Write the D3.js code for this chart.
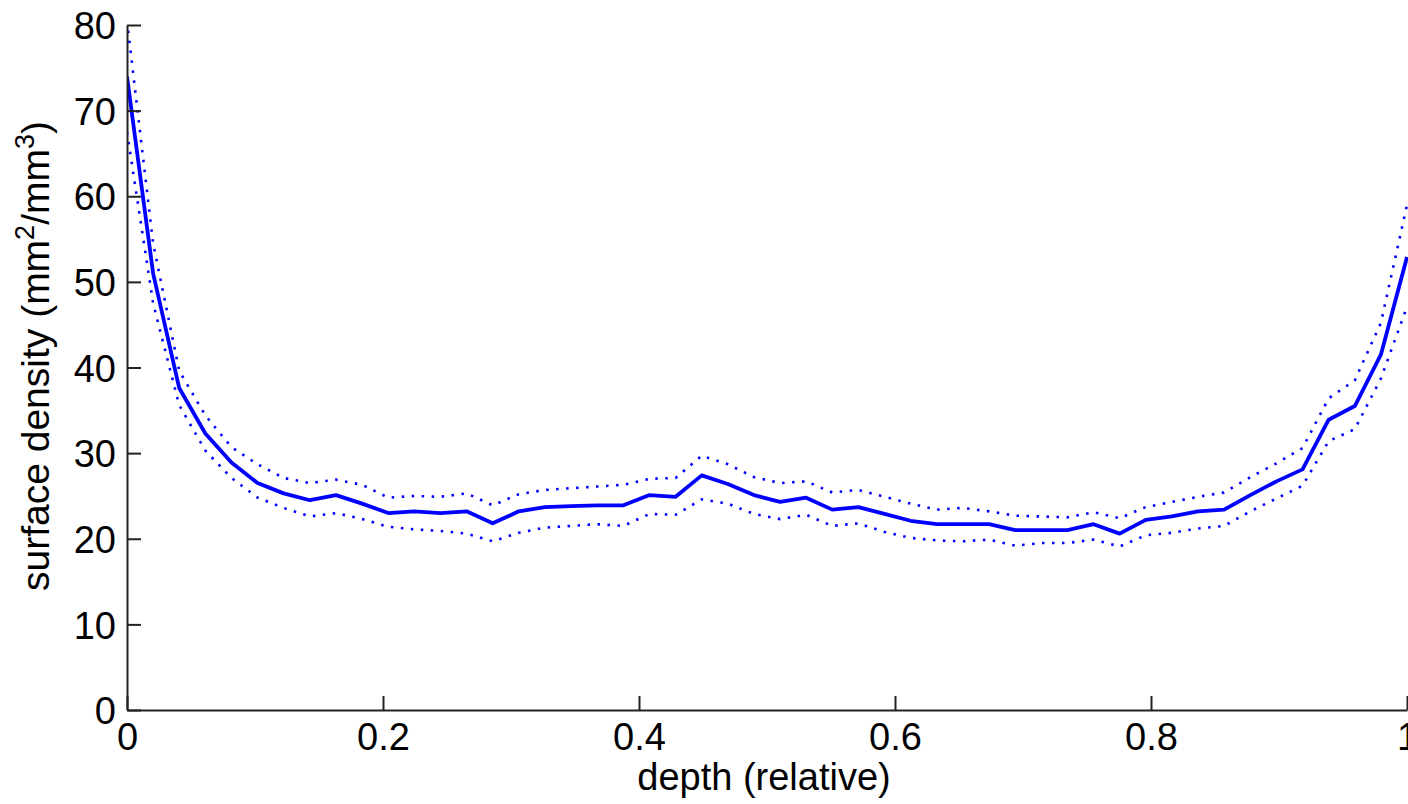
<!DOCTYPE html>
<html>
<head>
<meta charset="utf-8">
<script src="https://cdn.jsdelivr.net/npm/d3@7"></script>
<style>
  html, body { margin: 0; padding: 0; background: #fff; }
  svg { display: block; }
  text { font-family: "Liberation Sans", Arial, Helvetica, sans-serif; fill: #000; }
</style>
</head>
<body>
<svg id="chart" width="1408" height="804"></svg>
<script>
// Relative depth of each sample (50 evenly spaced bins from 0 to 1)
const depth = [
  0, 0.0204, 0.0408, 0.0612, 0.0816, 0.1020, 0.1224, 0.1429, 0.1633, 0.1837,
  0.2041, 0.2245, 0.2449, 0.2653, 0.2857, 0.3061, 0.3265, 0.3469, 0.3673, 0.3878,
  0.4082, 0.4286, 0.4490, 0.4694, 0.4898, 0.5102, 0.5306, 0.5510, 0.5714, 0.5918,
  0.6122, 0.6327, 0.6531, 0.6735, 0.6939, 0.7143, 0.7347, 0.7551, 0.7755, 0.7959,
  0.8163, 0.8367, 0.8571, 0.8776, 0.8980, 0.9184, 0.9388, 0.9592, 0.9796, 1
];

// Mean surface density (mm^2/mm^3)
const meanDensity = [
  74.0, 51.0, 37.6, 32.3, 28.9, 26.5, 25.3, 24.5, 25.1, 24.1,
  23.0, 23.2, 23.0, 23.2, 21.8, 23.2, 23.7, 23.8, 23.9, 23.9,
  25.1, 24.9, 27.4, 26.4, 25.1, 24.3, 24.8, 23.4, 23.7, 22.9,
  22.1, 21.7, 21.7, 21.7, 21.0, 21.0, 21.0, 21.7, 20.6, 22.2,
  22.6, 23.2, 23.4, 25.1, 26.7, 28.1, 33.9, 35.5, 41.5, 52.9
];

// Upper confidence bound
const upperDensity = [
  80.5, 54.5, 39.6, 34.4, 30.7, 28.7, 27.1, 26.5, 26.9, 26.3,
  24.8, 25.0, 24.9, 25.3, 23.9, 25.2, 25.7, 25.9, 26.1, 26.3,
  27.0, 27.1, 29.7, 28.7, 27.2, 26.5, 26.7, 25.4, 25.7, 24.9,
  24.1, 23.4, 23.6, 23.2, 22.7, 22.6, 22.5, 23.1, 22.4, 23.7,
  24.3, 24.9, 25.4, 27.2, 28.8, 30.6, 36.4, 38.5, 45.2, 59.0
];

// Lower confidence bound
const lowerDensity = [
  67.5, 47.5, 35.6, 30.3, 27.1, 24.8, 23.6, 22.6, 23.0, 22.3,
  21.4, 21.1, 20.9, 20.6, 19.7, 20.7, 21.3, 21.5, 21.7, 21.5,
  22.9, 22.8, 24.6, 24.1, 22.9, 22.3, 22.8, 21.5, 21.8, 20.8,
  20.1, 19.8, 19.7, 19.9, 19.2, 19.5, 19.5, 19.9, 19.1, 20.4,
  20.7, 21.2, 21.5, 23.2, 24.7, 26.2, 31.4, 32.8, 38.7, 47.1
];

const xTicks = [0, 0.2, 0.4, 0.6, 0.8, 1];
const xTickLabels = ["0", "0.2", "0.4", "0.6", "0.8", "1"];
const yTicks = [0, 10, 20, 30, 40, 50, 60, 70, 80];

const svg = d3.select("#chart");
const margin = { left: 127, right: 1, top: 25, bottom: 94 };
const W = 1408, H = 804;
const innerW = W - margin.left - margin.right;
const innerH = H - margin.top - margin.bottom;

const x = d3.scaleLinear().domain([0, 1]).range([0, innerW]);
const y = d3.scaleLinear().domain([0, 80]).range([innerH, 0]);

const g = svg.append("g").attr("transform", `translate(${margin.left},${margin.top})`);

svg.append("defs").append("clipPath").attr("id", "plotClip")
  .append("rect").attr("x", 0).attr("y", 0).attr("width", innerW + 1).attr("height", innerH);

const rows = depth.map((d, i) => ({ d, m: meanDensity[i], u: upperDensity[i], l: lowerDensity[i] }));

const lines = g.append("g").attr("clip-path", "url(#plotClip)");
const mk = key => d3.line().x(r => x(r.d)).y(r => y(r[key]));

// confidence bounds (dotted) and mean (solid)
["u", "l"].forEach(k => {
  lines.append("path").datum(rows).attr("d", mk(k))
    .attr("fill", "none").attr("stroke", "#0000ff").attr("stroke-width", 2.6)
    .attr("stroke-dasharray", "2.5,7.5");
});
lines.append("path").datum(rows).attr("d", mk("m"))
  .attr("fill", "none").attr("stroke", "#0000ff").attr("stroke-width", 3.8)
  .attr("stroke-linejoin", "round");

// Axes with inward ticks
const xAxis = d3.axisBottom(x).tickValues(xTicks).tickSizeInner(-14).tickSizeOuter(0)
  .tickFormat((d, i) => xTickLabels[i]).tickPadding(13);
const yAxis = d3.axisLeft(y).tickValues(yTicks).tickSizeInner(-14).tickSizeOuter(0)
  .tickPadding(26);

const gx = g.append("g").attr("transform", `translate(0,${innerH})`).call(xAxis);
const gy = g.append("g").call(yAxis);

[gx, gy].forEach(a => {
  a.select(".domain").attr("stroke", "#222").attr("stroke-width", 2);
  a.selectAll(".tick line").attr("stroke", "#222").attr("stroke-width", 2);
  a.selectAll(".tick text").style("font-size", "38px").attr("fill", "#000");
});
gy.selectAll(".tick text").attr("x", -11).attr("dy", "0.36em");

// Axis titles
svg.append("text")
  .attr("x", margin.left + innerW / 2 - 3).attr("y", 790)
  .attr("text-anchor", "middle").style("font-size", "38px")
  .text("depth (relative)");

const yl = svg.append("text")
  .attr("transform", "translate(49,356) rotate(-90)")
  .attr("text-anchor", "middle").style("font-size", "39px");
yl.append("tspan").text("surface density (mm");
yl.append("tspan").attr("baseline-shift", "super").style("font-size", "27px").text("2");
yl.append("tspan").text("/mm");
yl.append("tspan").attr("baseline-shift", "super").style("font-size", "27px").text("3");
yl.append("tspan").text(")");
</script>
</body>
</html>
